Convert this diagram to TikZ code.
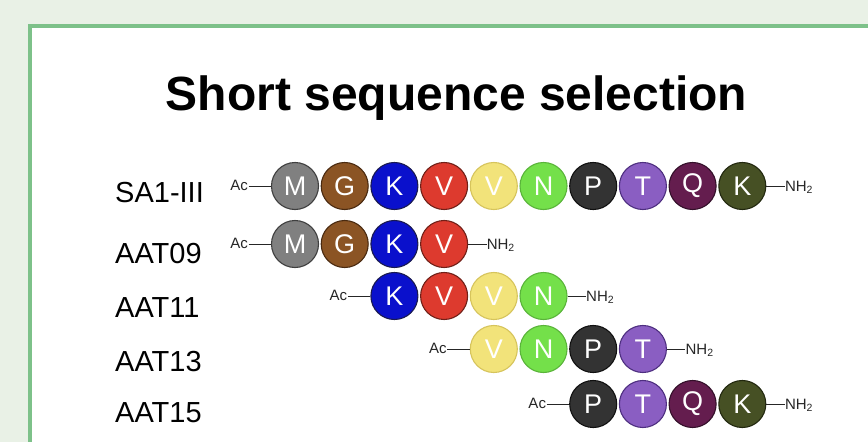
\documentclass[tikz,border=0pt]{standalone}
\usepackage{fontspec}
\setmainfont{Liberation Sans}
\definecolor{bgc}{HTML}{E9F1E6}
\definecolor{framec}{HTML}{7DC189}
\definecolor{gM}{HTML}{808080}\definecolor{gMd}{HTML}{3F3F3F}
\definecolor{gG}{HTML}{8B5424}\definecolor{gGd}{HTML}{4A2A10}
\definecolor{gK}{HTML}{0A10CC}\definecolor{gKd}{HTML}{1A1A50}
\definecolor{gV}{HTML}{DD3A2E}\definecolor{gVd}{HTML}{702018}
\definecolor{gY}{HTML}{F2E37A}\definecolor{gYd}{HTML}{D6C45C}
\definecolor{gN}{HTML}{74E04A}\definecolor{gNd}{HTML}{5AB43A}
\definecolor{gP}{HTML}{333333}\definecolor{gPd}{HTML}{111111}
\definecolor{gT}{HTML}{8A5EC2}\definecolor{gTd}{HTML}{4E2F80}
\definecolor{gQ}{HTML}{641D4E}\definecolor{gQd}{HTML}{34102A}
\definecolor{gO}{HTML}{465024}\definecolor{gOd}{HTML}{22280F}
\begin{document}
\begin{tikzpicture}[x=1pt,y=-1pt,
  aa/.style={circle, minimum size=47pt, inner sep=0pt, line width=1.1pt, text=white,
             font=\fontsize{27}{27}\selectfont},
  bond/.style={line width=1pt, black!85},
  actext/.style={inner sep=0pt, font=\fontsize{15}{15}\selectfont, text=black!85},
  lab/.style={inner sep=0pt, font=\fontsize{29}{29}\selectfont},
  titletext/.style={inner sep=0pt, font=\fontsize{48}{48}\selectfont\bfseries}]
\fill[bgc] (0,0) rectangle (868,442);
\useasboundingbox (0,0) rectangle (868,442);
\begin{scope}
  \clip (0,0) rectangle (868,442);
  \draw[line width=4pt, framec, fill=white] (30,26) rectangle (900,480);
\end{scope}
\node[titletext, anchor=base] (title) at (456.5,110) {Short sequence selection};
% labels
\node[lab, anchor=base west] (l1) at (115,202) {SA1-III};
\node[lab, anchor=base west] (l2) at (115,263) {AAT09};
\node[lab, anchor=base west] (l3) at (115,317) {AAT11};
\node[lab, anchor=base west] (l4) at (115,371) {AAT13};
\node[lab, anchor=base west] (l5) at (115,422) {AAT15};
% row 1
\foreach \c/\l/\cf/\cd in {1/M/gM/gMd,2/G/gG/gGd,3/K/gK/gKd,4/V/gV/gVd,5/V/gY/gYd,6/N/gN/gNd,7/P/gP/gPd,8/T/gT/gTd,9/Q/gQ/gQd,10/K/gO/gOd}
  \node[aa, fill=\cf, draw=\cd] (r1c\c) at ({295+49.7*(\c-1)},186) {\l};
% row 2
\foreach \c/\l/\cf/\cd in {1/M/gM/gMd,2/G/gG/gGd,3/K/gK/gKd,4/V/gV/gVd}
  \node[aa, fill=\cf, draw=\cd] (r2c\c) at ({295+49.7*(\c-1)},244) {\l};
% row 3
\foreach \c/\l/\cf/\cd in {3/K/gK/gKd,4/V/gV/gVd,5/V/gY/gYd,6/N/gN/gNd}
  \node[aa, fill=\cf, draw=\cd] (r3c\c) at ({295+49.7*(\c-1)},296) {\l};
% row 4
\foreach \c/\l/\cf/\cd in {5/V/gY/gYd,6/N/gN/gNd,7/P/gP/gPd,8/T/gT/gTd}
  \node[aa, fill=\cf, draw=\cd] (r4c\c) at ({295+49.7*(\c-1)},349) {\l};
% row 5
\foreach \c/\l/\cf/\cd in {7/P/gP/gPd,8/T/gT/gTd,9/Q/gQ/gQd,10/K/gO/gOd}
  \node[aa, fill=\cf, draw=\cd] (r5c\c) at ({295+49.7*(\c-1)},404) {\l};
% termini
\foreach \r/\a/\b/\y in {1/1/10/186,2/1/4/244,3/3/6/296,4/5/8/349,5/7/10/404}{
  \coordinate (ac\r) at ({295+49.7*(\a-1)-23.5-23},\y);
  \coordinate (nh\r) at ({295+49.7*(\b-1)+23.5+19},\y);
  \draw[bond] (ac\r) -- (r\r c\a);
  \draw[bond] (r\r c\b) -- (nh\r);
  \node[actext, anchor=base east, yshift=-4pt, xshift=-0.5pt] (act\r) at (ac\r) {Ac};
  \node[actext, anchor=base west, yshift=-5.5pt] (nht\r) at (nh\r) {NH\textsubscript{2}};
}
\end{tikzpicture}
\end{document}
